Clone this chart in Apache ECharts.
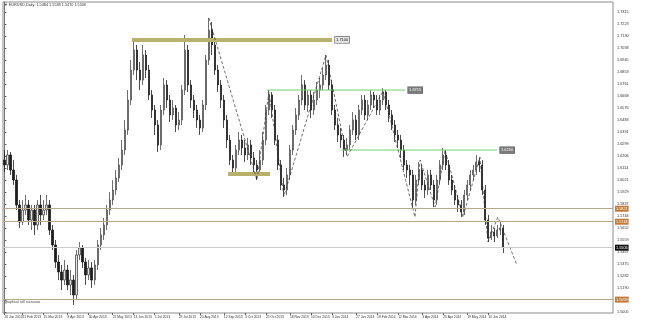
<!DOCTYPE html>
<html><head><meta charset="utf-8">
<script src="https://cdn.jsdelivr.net/npm/echarts@6/dist/echarts.min.js"></script>
<style>html,body{margin:0;padding:0;background:#fff}#c{width:650px;height:323px}</style>
</head><body><div id="c"></div>
<script>
// [open, close, low, high]
const candles = [
[1.6175,1.6137,1.6083,1.6252],[1.6137,1.6214,1.6098,1.6252],[1.6214,1.6098,1.6060,1.6237],[1.6098,1.6021,1.5983,1.6175],
[1.6021,1.5829,1.5790,1.6060],[1.5829,1.5698,1.5652,1.5867],[1.5698,1.5790,1.5675,1.5867],[1.5790,1.5829,1.5752,1.5906],
[1.5829,1.5713,1.5675,1.5867],[1.5713,1.5790,1.5636,1.5829],[1.5790,1.5675,1.5598,1.5829],[1.5675,1.5829,1.5636,1.5867],
[1.5829,1.5752,1.5675,1.5906],[1.5752,1.5790,1.5713,1.5867],[1.5790,1.5829,1.5752,1.5906],[1.5829,1.5636,1.5598,1.5867],
[1.5636,1.5521,1.5482,1.5675],[1.5521,1.5390,1.5344,1.5559],[1.5390,1.5313,1.5251,1.5444],[1.5313,1.5251,1.5174,1.5367],
[1.5251,1.5328,1.5213,1.5405],[1.5328,1.5213,1.5174,1.5367],[1.5213,1.5251,1.5136,1.5328],[1.5251,1.5136,1.5059,1.5290],
[1.5136,1.5444,1.5097,1.5482],[1.5444,1.5498,1.5405,1.5544],[1.5498,1.5390,1.5344,1.5521],[1.5390,1.5290,1.5213,1.5421],
[1.5290,1.5344,1.5251,1.5405],[1.5344,1.5251,1.5190,1.5390],[1.5251,1.5367,1.5213,1.5405],[1.5367,1.5521,1.5328,1.5559],
[1.5521,1.5598,1.5482,1.5652],[1.5598,1.5675,1.5559,1.5729],[1.5675,1.5790,1.5636,1.5829],[1.5790,1.5867,1.5752,1.5929],
[1.5867,1.5944,1.5829,1.6021],[1.5944,1.6037,1.5906,1.6098],[1.6037,1.6137,1.6006,1.6191],[1.6137,1.6252,1.6098,1.6329],
[1.6252,1.6406,1.6214,1.6483],[1.6406,1.6637,1.6368,1.6714],[1.6637,1.6868,1.6599,1.6945],[1.6868,1.7022,1.6830,1.7115],
[1.7022,1.6868,1.6791,1.7061],[1.6868,1.6791,1.6714,1.6930],[1.6791,1.6984,1.6753,1.7061],[1.6984,1.6868,1.6807,1.7022],
[1.6868,1.6676,1.6637,1.6907],[1.6676,1.6560,1.6499,1.6714],[1.6560,1.6445,1.6368,1.6599],[1.6445,1.6291,1.6237,1.6483],
[1.6291,1.6560,1.6252,1.6599],[1.6560,1.6753,1.6522,1.6807],[1.6753,1.6637,1.6576,1.6791],[1.6637,1.6522,1.6468,1.6676],
[1.6522,1.6576,1.6483,1.6637],[1.6576,1.6445,1.6391,1.6599],[1.6445,1.6483,1.6406,1.6545],[1.6483,1.6714,1.6445,1.6753],
[1.6714,1.7022,1.6676,1.7138],[1.7022,1.6753,1.6699,1.7061],[1.6753,1.6637,1.6576,1.6791],[1.6637,1.6560,1.6499,1.6676],
[1.6560,1.6483,1.6422,1.6599],[1.6483,1.6422,1.6368,1.6522],[1.6422,1.6599,1.6391,1.6637],[1.6599,1.6945,1.6560,1.6984],
[1.6945,1.7176,1.6907,1.7269],[1.7176,1.7061,1.6984,1.7238],[1.7061,1.6868,1.6830,1.7100],[1.6868,1.6753,1.6699,1.6907],
[1.6753,1.6637,1.6576,1.6791],[1.6637,1.6483,1.6422,1.6676],[1.6483,1.6329,1.6268,1.6522],[1.6329,1.6175,1.6137,1.6368],
[1.6175,1.6114,1.6060,1.6214],[1.6114,1.6252,1.6083,1.6291],[1.6252,1.6329,1.6214,1.6391],[1.6329,1.6268,1.6214,1.6368],
[1.6268,1.6214,1.6160,1.6329],[1.6214,1.6291,1.6175,1.6345],[1.6291,1.6191,1.6137,1.6329],[1.6191,1.6137,1.6083,1.6237],
[1.6137,1.6098,1.6021,1.6175],[1.6098,1.6175,1.6060,1.6252],[1.6175,1.6329,1.6137,1.6391],[1.6329,1.6560,1.6291,1.6599],
[1.6560,1.6676,1.6522,1.6714],[1.6676,1.6560,1.6499,1.6699],[1.6560,1.6329,1.6291,1.6599],[1.6329,1.6137,1.6098,1.6368],
[1.6137,1.5983,1.5944,1.6175],[1.5983,1.5944,1.5891,1.6037],[1.5944,1.6060,1.5906,1.6114],[1.6060,1.6252,1.6021,1.6291],
[1.6252,1.6406,1.6214,1.6445],[1.6406,1.6522,1.6368,1.6576],[1.6522,1.6637,1.6483,1.6676],[1.6637,1.6753,1.6599,1.6830],
[1.6753,1.6599,1.6560,1.6791],[1.6599,1.6676,1.6545,1.6714],[1.6676,1.6560,1.6499,1.6714],[1.6560,1.6637,1.6522,1.6699],
[1.6637,1.6714,1.6599,1.6776],[1.6714,1.6753,1.6653,1.6807],[1.6753,1.6830,1.6714,1.6884],[1.6830,1.6907,1.6791,1.6984],
[1.6907,1.6753,1.6714,1.6945],[1.6753,1.6560,1.6522,1.6791],[1.6560,1.6445,1.6406,1.6599],[1.6445,1.6368,1.6314,1.6499],
[1.6368,1.6329,1.6268,1.6422],[1.6329,1.6252,1.6199,1.6368],[1.6252,1.6291,1.6214,1.6345],[1.6291,1.6406,1.6252,1.6445],
[1.6406,1.6483,1.6368,1.6545],[1.6483,1.6368,1.6329,1.6522],[1.6368,1.6560,1.6329,1.6599],[1.6560,1.6637,1.6522,1.6676],
[1.6637,1.6522,1.6483,1.6676],[1.6522,1.6599,1.6483,1.6637],[1.6599,1.6676,1.6560,1.6714],[1.6676,1.6637,1.6576,1.6699],
[1.6637,1.6560,1.6522,1.6676],[1.6560,1.6637,1.6522,1.6676],[1.6637,1.6699,1.6599,1.6730],[1.6699,1.6599,1.6560,1.6714],
[1.6599,1.6522,1.6468,1.6637],[1.6522,1.6445,1.6406,1.6560],[1.6445,1.6368,1.6314,1.6483],[1.6368,1.6329,1.6268,1.6406],
[1.6329,1.6252,1.6191,1.6368],[1.6252,1.6137,1.6098,1.6291],[1.6137,1.6098,1.6037,1.6175],[1.6098,1.6060,1.5983,1.6137],
[1.6060,1.5867,1.5806,1.6098],[1.5867,1.6021,1.5829,1.6060],[1.6021,1.6098,1.5983,1.6160],[1.6098,1.5983,1.5944,1.6137],
[1.5983,1.5944,1.5883,1.6021],[1.5944,1.6060,1.5906,1.6098],[1.6060,1.5983,1.5944,1.6098],[1.5983,1.5867,1.5813,1.6021],
[1.5867,1.6021,1.5829,1.6060],[1.6021,1.6137,1.5983,1.6175],[1.6137,1.6214,1.6098,1.6268],[1.6214,1.6137,1.6098,1.6252],
[1.6137,1.6021,1.5983,1.6175],[1.6021,1.5944,1.5906,1.6060],[1.5944,1.5867,1.5829,1.5983],[1.5867,1.5829,1.5775,1.5906],
[1.5829,1.5775,1.5736,1.5867],[1.5775,1.5906,1.5752,1.5944],[1.5906,1.5983,1.5867,1.6021],[1.5983,1.6060,1.5944,1.6098],
[1.6060,1.6098,1.6021,1.6137],[1.6098,1.6160,1.6060,1.6214],[1.6160,1.6137,1.6083,1.6191],[1.6137,1.5944,1.5906,1.6175],
[1.5944,1.5713,1.5675,1.5983],[1.5713,1.5575,1.5544,1.5752],[1.5575,1.5621,1.5559,1.5675],[1.5621,1.5590,1.5544,1.5652],
[1.5590,1.5636,1.5575,1.5675],[1.5636,1.5652,1.5598,1.5698],[1.5652,1.5506,1.5459,1.5675]
];
const xLabels = ['26 Jan 2013','21 Feb 2013','15 Mar 2013','8 Apr 2013','30 Apr 2013','22 May 2013','13 Jun 2013','5 Jul 2013','29 Jul 2013','20 Aug 2013','12 Sep 2013','3 Oct 2013','25 Oct 2013','18 Nov 2013','10 Dec 2013','3 Jan 2014','27 Jan 2014','18 Feb 2014','12 Mar 2014','3 Apr 2014','25 Apr 2014','19 May 2014','10 Jun 2014'];
const xLabelIdx = [0,6,13,21,28,36,43,50,58,65,73,80,87,95,102,109,117,124,131,139,146,154,161];
const yTicks = [1.7315,1.7223,1.7130,1.7038,1.6945,1.6853,1.6761,1.6668,1.6576,1.6483,1.6391,1.6299,1.6206,1.6114,1.6021,1.5929,1.5837,1.5744,1.5652,1.5559,1.5467,1.5375,1.5282,1.5190,1.5097,1.5005];
const zigzag = [[68,1.7269],[84,1.6021],[88,1.6699],[93,1.5898],[107,1.6984],[114,1.6199],[126,1.6707],[136.6,1.5736],[138.3,1.6175],[143.3,1.5813],[146.6,1.6252],[152.6,1.5736],[158.2,1.6199],[160.9,1.5544],[164.2,1.5736],[170.5,1.5367]];
const olive1 = [[42.4,1.7100],[109,1.7100]];
const olive2 = [[74.4,1.6068],[88.4,1.6068]];
const green1 = [[87.3,1.6714],[133.3,1.6714]];
const green2 = [[112.3,1.6252],[163.9,1.6252]];
const hLevels = [1.5821,1.5744,1.5059];
const lastPrice = 1.5506;

const FONT = 'Liberation Sans';
const chart = echarts.init(document.getElementById('c'));
const candleData = candles.map((r,i)=>[i,r[0],r[1],r[2],r[3]]);
const levelLabel = (txt,bg,fg,bc)=>({show:true,formatter:txt,fontSize:4,fontFamily:FONT,color:fg,backgroundColor:bg,borderColor:bc,borderWidth:0.6,padding:[1,1],distance:3});
chart.setOption({
  animation:false,
  backgroundColor:'#ffffff',
  grid:{left:3,right:37,top:2,bottom:10,show:true,borderColor:'#8c8c8c',borderWidth:1},
  xAxis:{type:'value',min:-0.5,max:202.5,
    axisLine:{show:false},
    axisTick:{show:true,customValues:xLabelIdx,length:2,lineStyle:{color:'#666'}},
    axisLabel:{show:true,customValues:xLabelIdx,fontSize:3.3,fontFamily:FONT,color:'#333',margin:3,align:'left',
      hideOverlap:false,showMinLabel:true,showMaxLabel:true,
      formatter:v=>{const k=xLabelIdx.indexOf(Math.round(v));return k>=0?xLabels[k]:'';}},
    splitLine:{show:false}},
  yAxis:{type:'value',position:'right',min:1.4997,max:1.7392,scale:true,
    axisLine:{show:true,lineStyle:{color:'#777'}},
    axisTick:{show:true,customValues:yTicks,length:2,lineStyle:{color:'#666'}},
    axisLabel:{show:true,customValues:yTicks,fontSize:3.8,fontFamily:FONT,color:'#333',margin:4,hideOverlap:false,formatter:v=>v.toFixed(4)},
    splitLine:{show:false}},
  graphic:[
    {type:'text',left:4,top:3,style:{text:'▼ EURUSD,Daily  1.5484 1.5538 1.5470 1.5506',fontSize:3.8,fontFamily:FONT,fill:'#333'}},
    {type:'text',left:5,top:301,style:{text:'graphical sell scenarios',fontSize:3.4,fontFamily:FONT,fill:'#444'}}
  ],
  series:[
    {type:'candlestick',data:candleData,encode:{x:0,y:[1,2,3,4]},barWidth:1.8,
      itemStyle:{color:'#e4e4e4',color0:'#1e1e1e',borderColor:'#4a4a4a',borderColor0:'#1e1e1e',borderWidth:0.8},
      markLine:{silent:true,symbol:['none','none'],
        data:[
          ...hLevels.map(v=>({yAxis:v,lineStyle:{color:'#b7a88a',width:1,type:'solid'},
            label:{show:true,position:'end',formatter:v.toFixed(4),fontSize:3.8,fontFamily:FONT,color:'#fff',backgroundColor:'#c07a3a',padding:[1,1],distance:2}})),
          {yAxis:lastPrice,lineStyle:{color:'#cccccc',width:1,type:'solid'},
            label:{show:true,position:'end',formatter:lastPrice.toFixed(4),fontSize:3.8,fontFamily:FONT,color:'#fff',backgroundColor:'#111',padding:[1,1],distance:2}}
        ]},
      z:2},
    {type:'line',data:olive1,symbol:'none',lineStyle:{color:'#b9b06c',width:4},silent:true,z:3,
      endLabel:levelLabel('1.7100','#e6e6e6','#111','#555')},
    {type:'line',data:olive2,symbol:'none',lineStyle:{color:'#b9b06c',width:4},silent:true,z:3},
    {type:'line',data:green1,symbol:'none',lineStyle:{color:'#6fcf6f',width:1},silent:true,z:3,
      endLabel:levelLabel('1.6715','#7a7a7a','#fff','#555')},
    {type:'line',data:green2,symbol:'none',lineStyle:{color:'#6fcf6f',width:1},silent:true,z:3,
      endLabel:levelLabel('1.6250','#7a7a7a','#fff','#555')},
    {type:'line',data:zigzag,symbol:'none',lineStyle:{color:'#333',width:0.7,type:[3,2]},silent:true,z:4}
  ]
});
</script></body></html>
